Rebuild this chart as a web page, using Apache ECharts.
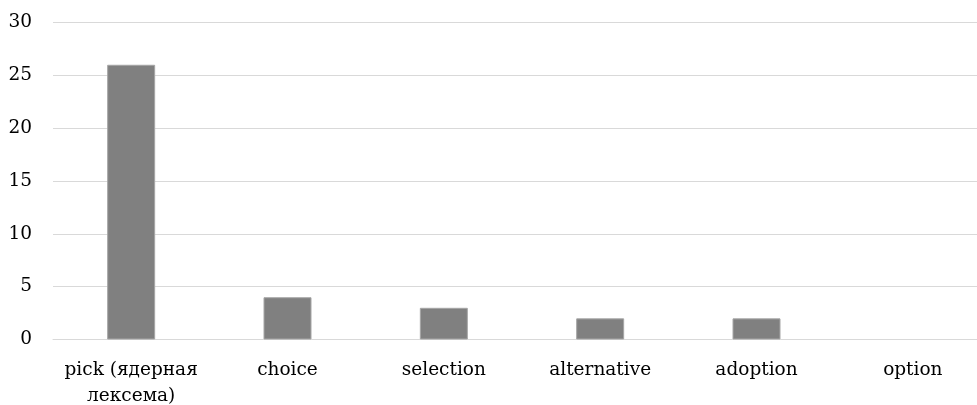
<!DOCTYPE html>
<html>
<head>
<meta charset="utf-8">
<script src="https://cdn.jsdelivr.net/npm/echarts@6/dist/echarts.min.js"></script>
<style>
  html, body { margin: 0; padding: 0; background: #fff; overflow: hidden; }
  /* the plot runs past the right edge of the page, so the canvas is wider than the view */
  #chart { width: 991px; height: 405px; }
</style>
</head>
<body>
<div id="chart"></div>
<script>
// Word frequencies
const categories = ['pick (ядерная\nлексема)', 'choice', 'selection', 'alternative', 'adoption', 'option'];
const counts = [26, 4, 3, 2, 2, 0];
const yTicks = { min: 0, max: 30, step: 5 };

const font = '"DejaVu Serif", serif';
const chart = echarts.init(document.getElementById('chart'), null, { renderer: 'canvas' });
chart.setOption({
  animation: false,
  grid: { left: 53, top: 22.5, right: 0, height: 317, outerBoundsMode: 'none', containLabel: false },
  xAxis: {
    type: 'category',
    data: categories,
    axisLine: { show: true, lineStyle: { color: '#d9d9d9', width: 1 } },
    axisTick: { show: false },
    axisLabel: { color: '#000', fontFamily: font, fontSize: 18.5, margin: 18, lineHeight: 26, interval: 0 }
  },
  yAxis: {
    type: 'value',
    min: yTicks.min, max: yTicks.max, interval: yTicks.step,
    axisLine: { show: false },
    axisTick: { show: false },
    splitLine: { lineStyle: { color: '#d9d9d9', width: 1 } },
    axisLabel: { color: '#000', fontFamily: font, fontSize: 18.5, margin: 21 }
  },
  series: [{
    type: 'bar',
    data: counts.map(v => ({ value: v, itemStyle: { borderWidth: v > 0 ? 1 : 0 } })),
    barWidth: 48,
    itemStyle: { color: '#808080', borderColor: '#a6a6a6', borderWidth: 1 }
  }]
});
</script>
</body>
</html>
